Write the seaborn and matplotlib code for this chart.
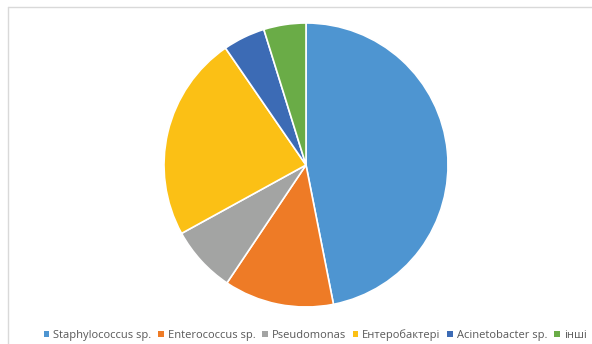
import matplotlib
matplotlib.use("Agg")
import matplotlib.pyplot as plt
import seaborn as sns
from matplotlib.lines import Line2D
from matplotlib.patches import Patch

sns.set_theme(style="white")
plt.rcParams['font.family'] = ['Open Sans', 'DejaVu Sans']

labels = ["Staphylococcus sp.", "Enterococcus sp.", "Pseudomonas", "Ентеробактері", "Acinetobacter sp.", "інші"]
values = [46.9, 12.5, 7.6, 23.4, 4.8, 4.8]
colors = ["#4E95D1", "#EE7B26", "#A3A4A3", "#FBC015", "#3C6BB5", "#6AAC47"]

fig = plt.figure(figsize=(5.92, 3.44), dpi=100)
ax = fig.add_axes([0, 0, 1, 1])
ax.pie(values, colors=colors, startangle=90, counterclock=False,
       radius=142, center=(306, 344 - 165),
       wedgeprops=dict(edgecolor="white", linewidth=1.2))
ax.set_xlim(0, 592)
ax.set_ylim(0, 344)
ax.set_aspect("equal")
ax.axis("off")

# frame lines (top and left)
fig.add_artist(Line2D([8/592, 1], [1 - 7/344, 1 - 7/344], color="#D9D9D9", lw=1))
fig.add_artist(Line2D([8/592, 8/592], [0, 1 - 7/344], color="#D9D9D9", lw=1))

handles = [Patch(facecolor=c, edgecolor="none") for c in colors]
leg = fig.legend(handles, labels, loc="center", bbox_to_anchor=(315/592, 1 - 335/344),
                 ncol=6, frameon=False, fontsize=8.0, handlelength=0.5, handleheight=0.55,
                 handletextpad=0.35, columnspacing=0.62, labelcolor="#595959",
                 borderpad=0.1, borderaxespad=0)

fig.savefig("out.png", dpi=100)
